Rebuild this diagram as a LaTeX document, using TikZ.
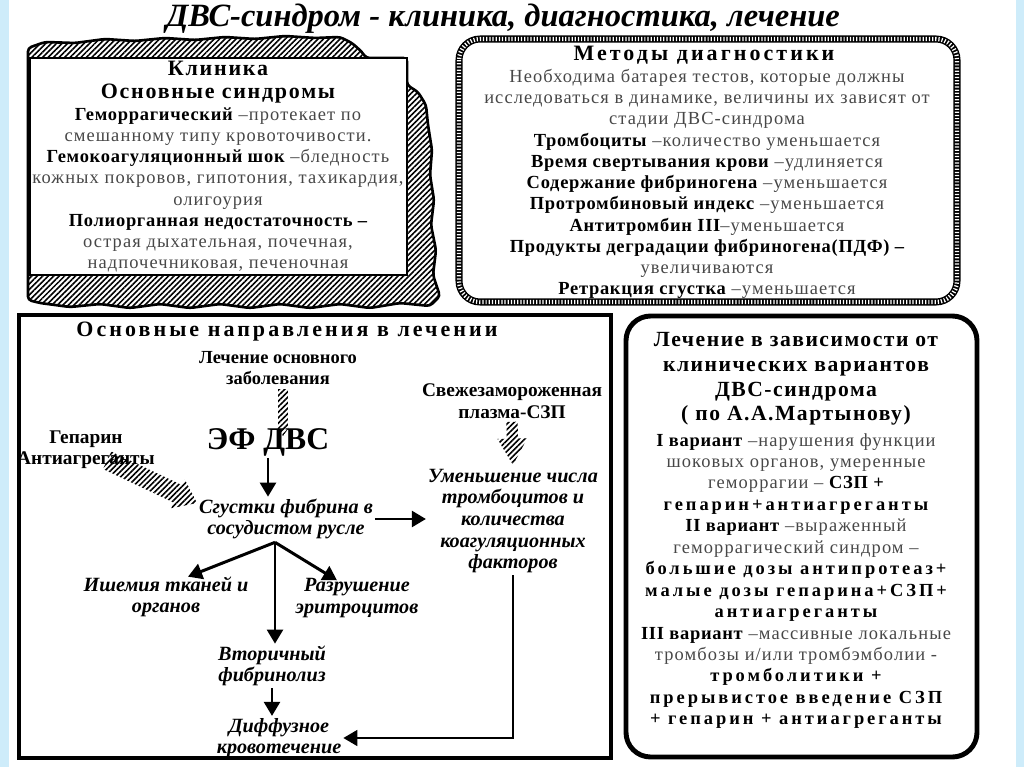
\documentclass[tikz,border=0pt]{standalone}
\usepackage{fontspec}
\setmainfont{Liberation Serif}
\usetikzlibrary{
    arrows.meta,
    calc,
    patterns.meta
}
\definecolor{edgecyan}{RGB}{206,236,250}

\newcommand\hd[1]{{\color{black}\bfseries\addfontfeature{LetterSpace=4}#1}}
\newcommand\wideb[1]{{\color{black}\bfseries\addfontfeature{LetterSpace=16}#1}}
% hatched block arrow: from, to, half shaft, half head, head length
\newcommand\hatcharrow[5]{%
  \coordinate (hb) at ($(#2)!#5!(#1)$);
  \fill[hatch] ($(#1)!#3!90:(#2)$) -- ($(hb)!#3!90:(#2)$) -- ($(hb)!#4!90:(#2)$)
    -- (#2) -- ($(hb)!#4!-90:(#2)$) -- ($(hb)!#3!-90:(#2)$) -- ($(#1)!#3!-90:(#2)$) -- cycle;
}

\begin{document}
\begin{tikzpicture}[x=0.02cm,y=-0.02cm,
    hatch/.style={pattern={Lines[angle=45,distance=2.2pt,line width=0.9pt]}},
    plain/.style={inner sep=0pt, align=center, text=black!72,
        font=\fontsize{10.5}{12.1}\selectfont\addfontfeature{LetterSpace=6}},
    head/.style={inner sep=0pt, align=center,
        font=\fontsize{12.5}{13}\selectfont\bfseries\addfontfeature{LetterSpace=5}},
    label/.style={inner sep=0pt, align=center, font=\fontsize{10.5}{12}\selectfont\bfseries},
    flow/.style={inner sep=1pt, align=center, font=\fontsize{11.5}{12.3}\selectfont\bfseries\itshape},
    arr/.style={line width=1.7pt, -{Triangle[length=8pt,width=9pt]}}
]
\useasboundingbox (0,0) rectangle (1024,767);

% edge strips
\fill[edgecyan] (0,0) rectangle (9,767);
\fill[edgecyan] (1016,0) rectangle (1024,767);

% Clinic: torn sheet with hatched shadow
\draw[hatch, line width=1.5pt, rounded corners=2pt]
    (28,48) -- (45,42) -- (75,43) -- (105,39) -- (135,41) -- (165,38) -- (195,40)
    -- (225,37) -- (255,39) -- (285,36) -- (315,38) -- (340,37) -- (352,43)
    -- (362,52) -- (366,58) -- (407,58) -- (407,85) -- (418,92) -- (426,105)
    -- (428,125) -- (432,150) -- (430,175) -- (434,200) -- (431,225) -- (436,250)
    -- (433,275) -- (440,296) -- (430,306) -- (400,303) -- (370,308) -- (340,304)
    -- (310,308) -- (280,304) -- (250,308) -- (220,304) -- (190,308) -- (160,304)
    -- (130,308) -- (100,304) -- (70,307) -- (40,303) -- (28,300) -- cycle;
\draw[fill=white, line width=0.8pt] (30,58) rectangle (407,275);

% title
\node[font=\fontsize{18.5}{20}\selectfont\bfseries\itshape, inner sep=0pt] (title) at (503,19)
    {ДВС-синдром - клиника, диагностика, лечение};

\node[head, font=\fontsize{12.5}{13}\selectfont\bfseries\addfontfeature{LetterSpace=8}]
    (clinichead) at (218,82) {Клиника\\Основные синдромы};
\node[plain] (clinicbody) at (218,190) {%
    \hd{Геморрагический} –протекает по\\
    смешанному типу кровоточивости.\\
    \hd{Гемокоагуляционный шок} –бледность\\
    кожных покровов, гипотония, тахикардия,\\
    олигоурия\\
    \hd{Полиорганная недостаточность –}\\
    острая дыхательная, почечная,\\
    надпочечниковая, печеночная};

% Diagnostics: rope border
\draw[line width=4pt, rounded corners=12pt] (459,39) rectangle (957,302);
\draw[white, line width=2.4pt, dash pattern=on 0.7pt off 1.1pt, rounded corners=12pt]
    (459,39) rectangle (957,302);

\node[head, font=\fontsize{12.5}{13}\selectfont\bfseries\addfontfeature{LetterSpace=14}]
    (diaghead) at (704,55) {Методы диагностики};
\node[plain] (diagbody) at (707,184) {%
    Необходима батарея тестов, которые должны\\
    исследоваться в динамике, величины их зависят от\\
    стадии ДВС-синдрома\\
    \hd{Тромбоциты} –количество уменьшается\\
    \hd{Время свертывания крови} –удлиняется\\
    \hd{Содержание фибриногена} –уменьшается\\
    \hd{Протромбиновый индекс} –уменьшается\\
    \hd{Антитромбин III}–уменьшается\\
    \hd{Продукты деградации фибриногена(ПДФ) –}\\
    увеличиваются\\
    \hd{Ретракция сгустка} –уменьшается};

% Treatment scheme
\draw[line width=2.8pt] (19,315) rectangle (611,758);
\node[head, font=\fontsize{12.5}{13}\selectfont\bfseries\addfontfeature{LetterSpace=14}]
    (treathead) at (287,332) {Основные направления в лечении};

\node[label] (basic) at (278,368) {Лечение основного\\заболевания};
\node[label, font=\fontsize{11}{12.5}\selectfont\bfseries] (plasma) at (512,401)
    {Свежезамороженная\\плазма-СЗП};
\node[label, font=\fontsize{11}{12}\selectfont\bfseries] (heparin) at (86,450)
    {Гепарин\\Антиагреганты};
\node[font=\fontsize{18}{20}\selectfont\bfseries, inner sep=1pt] (efdvs) at (268,442) {ЭФ ДВС};
\node[flow] (clots) at (286,519) {Сгустки фибрина в\\сосудистом русле};
\node[flow] (reduce) at (513,521)
    {Уменьшение числа\\тромбоцитов и\\количества\\коагуляционных\\факторов};
\node[flow] (ischemia) at (166,597) {Ишемия тканей и\\органов};
\node[flow] (destroy) at (357,598) {Разрушение\\эритроцитов};
\node[flow] (fibrin) at (272,666) {Вторичный\\фибринолиз};
\node[flow] (bleed) at (279,738) {Диффузное\\кровотечение};

% hatched arrows
\coordinate (b1) at ($(basic.south)+(5,4)$);
\coordinate (b2) at ($(efdvs.north)+(15,10)$);
\hatcharrow{b1}{b2}{2.8pt}{3.5pt}{5pt}
\coordinate (p1) at ($(plasma.south)+(0,3)$);
\coordinate (p2) at ($(reduce.north)+(0,-2)$);
\hatcharrow{p1}{p2}{3.2pt}{8.5pt}{15pt}
\coordinate (h1) at ($(heparin.south east)+(-48,-9)$);
\coordinate (h2) at ($(clots.west)+(0,-16)$);
\hatcharrow{h1}{h2}{5.5pt}{9pt}{12pt}

% black arrows
\draw[arr] (efdvs.south) -- (efdvs.south |- clots.north);
\draw[arr] (clots.east) -- (reduce.west |- clots.east);
\coordinate (fork) at ($(clots.south)+(-11,1)$);
\draw[arr] (fork) -- ($(ischemia.north)+(22,2)$);
\draw[arr] (fork) -- (fork |- fibrin.north);
\draw[arr] (fork) -- ($(destroy.north)+(-20,4)$);
\draw[arr] (fibrin.south) -- (fibrin.south |- bleed.north);
\draw[line width=1.3pt, -{Triangle[length=8pt,width=9pt]}] (reduce.south) |- (bleed.east);

% Treatment by variants
\draw[line width=2.8pt, rounded corners=14pt] (626,316) rectangle (977,757);
\node[head, font=\fontsize{12.3}{14}\selectfont\bfseries\addfontfeature{LetterSpace=7}]
    (varhead) at (796,379)
    {Лечение в зависимости от\\клинических вариантов\\ДВС-синдрома\\( по А.А.Мартынову)};
\node[plain, font=\fontsize{10.5}{12.2}\selectfont\addfontfeature{LetterSpace=6}]
    (varbody) at (796,581) {%
    \hd{I вариант} –нарушения функции\\
    шоковых органов, умеренные\\
    геморрагии – \hd{СЗП +}\\
    \wideb{гепарин+антиагреганты}\\
    \hd{II вариант} –выраженный\\
    геморрагический синдром –\\
    \wideb{большие дозы антипротеаз+}\\
    \wideb{малые дозы гепарина+СЗП+}\\
    \wideb{антиагреганты}\\
    \hd{III вариант} –массивные локальные\\
    тромбозы и/или тромбэмболии -\\
    \wideb{тромболитики +}\\
    \wideb{прерывистое введение СЗП}\\
    \wideb{+ гепарин + антиагреганты}};

\end{tikzpicture}
\end{document}
